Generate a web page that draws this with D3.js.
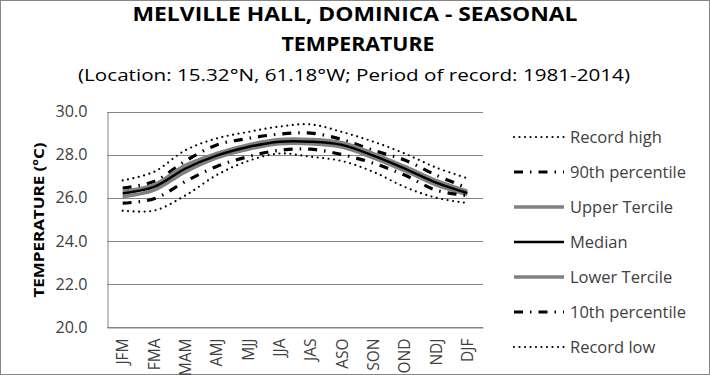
<!DOCTYPE html>
<html><head><meta charset="utf-8">
<script src="https://cdn.jsdelivr.net/npm/d3@7"></script>
<style>body{margin:0;background:#fff}svg{display:block}</style>
</head><body><svg id="c" width="710" height="375"></svg>
<script>
const categories = ["JFM","FMA","MAM","AMJ","MJJ","JJA","JAS","ASO","SON","OND","NDJ","DJF"];
const recordHigh = [26.8,27.2,28.2,28.75,29.05,29.3,29.4,29.05,28.6,28.05,27.4,26.9];
const p90 =        [26.45,26.75,27.7,28.45,28.75,28.95,29.0,28.7,28.2,27.75,27.05,26.45];
const upperTerc =  [26.3,26.6,27.5,28.05,28.45,28.7,28.7,28.55,28.05,27.45,26.8,26.3];
const median =     [26.2,26.5,27.35,27.95,28.35,28.6,28.6,28.45,27.95,27.35,26.7,26.22];
const lowerTerc =  [26.05,26.35,27.2,27.85,28.25,28.5,28.5,28.35,27.85,27.25,26.6,26.15];
const p10 =        [25.75,25.95,26.75,27.45,27.9,28.2,28.25,28.0,27.6,27.05,26.35,26.1];
const recordLow =  [25.4,25.4,26.1,27.05,27.7,28.05,27.9,27.7,27.2,26.5,26.0,25.75];
const yTicks = [20,22,24,26,28,30];

const series = [
  {name:"Record high", values:recordHigh, color:"#000", width:2.2, dash:"0,5.5", cap:"round"},
  {name:"90th percentile", values:p90, color:"#000", width:3.2, dash:"9,7,1.5,7", cap:"butt"},
  {name:"Upper Tercile", values:upperTerc, color:"#808080", width:3.5, dash:null, cap:"butt"},
  {name:"Median", values:median, color:"#000", width:2.5, dash:null, cap:"butt"},
  {name:"Lower Tercile", values:lowerTerc, color:"#808080", width:3.5, dash:null, cap:"butt"},
  {name:"10th percentile", values:p10, color:"#000", width:3.2, dash:"9,7,1.5,7", cap:"butt"},
  {name:"Record low", values:recordLow, color:"#000", width:2.2, dash:"0,5.5", cap:"round"}
];

const svg = d3.select("#c");
const font = "'Open Sans', sans-serif";
svg.append("rect").attr("x",0.5).attr("y",0.5).attr("width",709).attr("height",374)
  .attr("fill","#fff").attr("stroke","#868686");

const L=107, R=483, T=111.5, B=327;
const x = d3.scaleBand().domain(categories).range([L,R]);
const y = d3.scaleLinear().domain([20,30]).range([B,T]);

// titles
svg.append("text").attr("x",355).attr("y",21).attr("text-anchor","middle")
  .attr("font-family",font).attr("font-weight","bold").attr("font-size",19).attr("fill","#000")
  .attr("textLength",445).attr("lengthAdjust","spacingAndGlyphs")
  .text("MELVILLE HALL, DOMINICA - SEASONAL");
svg.append("text").attr("x",358).attr("y",51).attr("text-anchor","middle")
  .attr("font-family",font).attr("font-weight","bold").attr("font-size",19).attr("fill","#000")
  .attr("textLength",153).attr("lengthAdjust","spacingAndGlyphs")
  .text("TEMPERATURE");
svg.append("text").attr("x",354).attr("y",81).attr("text-anchor","middle")
  .attr("font-family",font).attr("font-size",17).attr("fill","#000")
  .attr("textLength",552).attr("lengthAdjust","spacingAndGlyphs")
  .text("(Location: 15.32°N, 61.18°W; Period of record: 1981-2014)");

// grid
svg.append("g").selectAll("line").data(yTicks).join("line")
  .attr("x1",L).attr("x2",R).attr("y1",d=>Math.round(y(d))+0.5).attr("y2",d=>Math.round(y(d))+0.5)
  .attr("stroke","#868686").attr("stroke-width",1);

// y axis
const ya = svg.append("g").attr("transform",`translate(${L+0.5},0)`)
  .call(d3.axisLeft(y).tickValues(yTicks).tickFormat(d3.format(".1f")).tickSize(0).tickPadding(20));
ya.select(".domain").attr("stroke","#868686");
ya.selectAll("text").attr("font-family",font).attr("font-size",16.5).attr("fill","#404040")
  .attr("textLength",32).attr("lengthAdjust","spacingAndGlyphs");

// x axis
const xa = svg.append("g").attr("transform",`translate(0,${Math.round(B)+0.5})`)
  .call(d3.axisBottom(x).tickSize(0).tickPadding(0));
xa.select(".domain").attr("stroke","#868686");
xa.selectAll("text").attr("font-family",font).attr("font-size",15.5).attr("fill","#404040")
  .attr("transform","rotate(-90)").attr("text-anchor","end").attr("dy","0.36em").attr("dx","-11").attr("y",0).attr("x",0);

// y title
svg.append("text").attr("transform","translate(44,220) rotate(-90)").attr("text-anchor","middle")
  .attr("font-family",font).attr("font-weight","bold").attr("font-size",15).attr("fill","#000")
  .attr("textLength",155).attr("lengthAdjust","spacingAndGlyphs")
  .text("TEMPERATURE (ºC)");

// lines
const line = d3.line().x((d,i)=>x(categories[i])+x.bandwidth()/2).y(d=>y(d)).curve(d3.curveCatmullRom.alpha(0.5));
const order = [0,1,2,4,3,5,6];
order.forEach(k=>{
  const s = series[k];
  svg.append("path").attr("d",line(s.values)).attr("fill","none")
    .attr("stroke",s.color).attr("stroke-width",s.width)
    .attr("stroke-dasharray",s.dash).attr("stroke-linecap",s.cap);
});

// legend
const lg = svg.append("g");
series.forEach((s,i)=>{
  const yy = 137 + i*35;
  lg.append("line").attr("x1",514).attr("x2",564).attr("y1",yy).attr("y2",yy)
    .attr("stroke",s.color).attr("stroke-width",s.width).attr("stroke-dasharray",s.dash).attr("stroke-linecap",s.cap);
  lg.append("text").attr("x",570).attr("y",yy).attr("dy","0.36em")
    .attr("font-family",font).attr("font-size",16.5).attr("fill","#404040").text(s.name);
});
</script></body></html>
